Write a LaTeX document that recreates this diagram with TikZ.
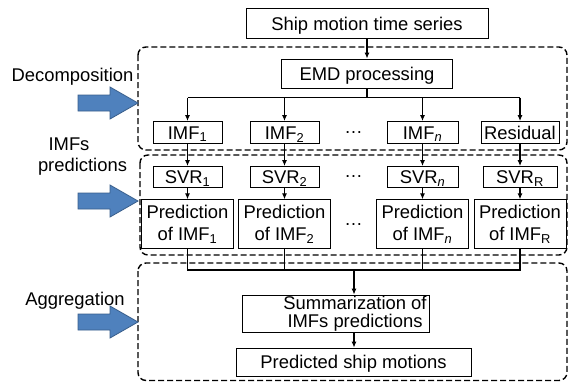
\documentclass[tikz,border=0pt]{standalone}
\usepackage{fontspec}
\setmainfont{Liberation Sans}
\usetikzlibrary{arrows.meta}
\definecolor{blockblue}{HTML}{4F81BD}
\definecolor{blockedge}{HTML}{385D8A}
\newcommand\dfont{\fontsize{18.4}{21.7}\selectfont}
\newcommand\tightfont{\fontsize{18.4}{18.2}\selectfont}
\newcommand\subit[1]{\textsubscript{\itshape #1}}
\begin{document}
\begin{tikzpicture}[x=1pt,y=-1pt,
  stepbox/.style={draw, line width=0.9pt, inner sep=0pt, font=\dfont, align=center, fill=white},
  one/.style={text height=14pt, text depth=1pt},
  grp/.style={draw, line width=1.4pt, dash pattern=on 6pt off 3pt, rounded corners=8pt},
  conn/.style={line width=1.1pt},
  arr/.style={conn, -{Latex[length=6pt,width=5pt]}},
  lbl/.style={font=\dfont, inner sep=0pt},
  blockarrow/.style={fill=blockblue, draw=blockedge, line width=0.8pt},
]
\useasboundingbox (0,0) rectangle (569,383);

% dashed groups
\draw[grp] (138,47) rectangle (567,150);
\draw[grp] (140,155) rectangle (567,255);
\draw[grp] (138,263) rectangle (567,380.5);

% side labels
\node[lbl, anchor=base] (decomp) at (72.5,81.5) {Decomposition};
\node[lbl, anchor=base] (imfsA) at (69,150.5) {IMFs};
\node[lbl, anchor=base] (imfsB) at (82.5,171.5) {predictions};
\node[lbl, anchor=base] (aggr) at (75,305) {Aggregation};

% block arrows
\foreach \y in {103,201,322}{
  \draw[blockarrow] (78,\y-8) -- (110,\y-8) -- (110,\y-16) -- (138,\y)
     -- (110,\y+16) -- (110,\y+8) -- (78,\y+8) -- cycle;
}

% boxes
\node[stepbox, one, minimum width=242pt, minimum height=30pt] (ship) at (367,23.5) {Ship motion time series};
\node[stepbox, one, minimum width=171pt, minimum height=29pt] (emd) at (367,73.5) {EMD processing};

\node[stepbox, one, minimum width=69pt, minimum height=22pt] (imf1) at (187.5,132.5) {IMF\textsubscript{1}};
\node[stepbox, one, minimum width=69pt, minimum height=22pt] (imf2) at (284.5,132.5) {IMF\textsubscript{2}};
\node[stepbox, one, minimum width=71pt, minimum height=22pt] (imfn) at (422.5,132.5) {IMF\subit{n}};
\node[stepbox, one, minimum width=78pt, minimum height=22pt] (res) at (520,132.5) {Residual};

\node[stepbox, one, minimum width=69pt, minimum height=21pt] (svr1) at (187.5,177) {SVR\textsubscript{1}};
\node[stepbox, one, minimum width=69pt, minimum height=21pt] (svr2) at (284.5,177) {SVR\textsubscript{2}};
\node[stepbox, one, minimum width=71pt, minimum height=21pt] (svrn) at (422.5,177) {SVR\subit{n}};
\node[stepbox, one, minimum width=74pt, minimum height=21pt] (svrR) at (520,177) {SVR\textsubscript{R}};

\node[stepbox, minimum width=92pt, minimum height=49pt] (pred1) at (187.5,224.3) {Prediction\\of IMF\textsubscript{1}};
\node[stepbox, minimum width=92pt, minimum height=49pt] (pred2) at (284.5,224.3) {Prediction\\of IMF\textsubscript{2}};
\node[stepbox, minimum width=92pt, minimum height=49pt] (predn) at (422.5,224.3) {Prediction\\of IMF\subit{n}};
\node[stepbox, minimum width=92pt, minimum height=49pt] (predR) at (520,224.3) {Prediction\\of IMF\textsubscript{R}};

\node[lbl] (dots1) at (353.5,132.5) {…};
\node[lbl] (dots2) at (353.5,177) {…};
\node[lbl] (dots3) at (353.5,224.3) {…};

\node[stepbox, minimum width=187pt, minimum height=37pt] (summ) at (335.5,313.5) {};
\node[lbl, align=center, font=\tightfont] (summt) at (355,314) {Summarization of\\IMFs predictions};
\node[stepbox, one, minimum width=235pt, minimum height=28pt] (out) at (353.5,362) {Predicted ship motions};

% connectors
\draw[arr] (ship) -- (emd);
\coordinate (bt) at (367,97.5);
\draw[conn] (emd.south) -- (bt);
\draw[conn] (imf1.north |- bt) -- (res.north |- bt);
\foreach \n in {imf1,imf2,imfn,res}{ \draw[arr] (\n.north |- bt) -- (\n.north); }
\draw[arr] (imf1) -- (svr1);
\draw[arr] (imf2) -- (svr2);
\draw[arr] (imfn) -- (svrn);
\draw[arr] (res) -- (svrR);
\draw[arr] (svr1) -- (pred1);
\draw[arr] (svr2) -- (pred2);
\draw[arr] (svrn) -- (predn);
\draw[arr] (svrR) -- (predR);

\coordinate (bb) at (354,270);
\draw[conn] (pred1.south) -- (pred1.south |- bb) -- (predR.south |- bb) -- (predR.south);
\draw[conn] (pred2.south) -- (pred2.south |- bb);
\draw[conn] (predn.south) -- (predn.south |- bb);
\draw[arr] (bb) -- (bb |- summ.north);
\draw[arr] (bb |- summ.south) -- (bb |- out.north);
\end{tikzpicture}
\end{document}
